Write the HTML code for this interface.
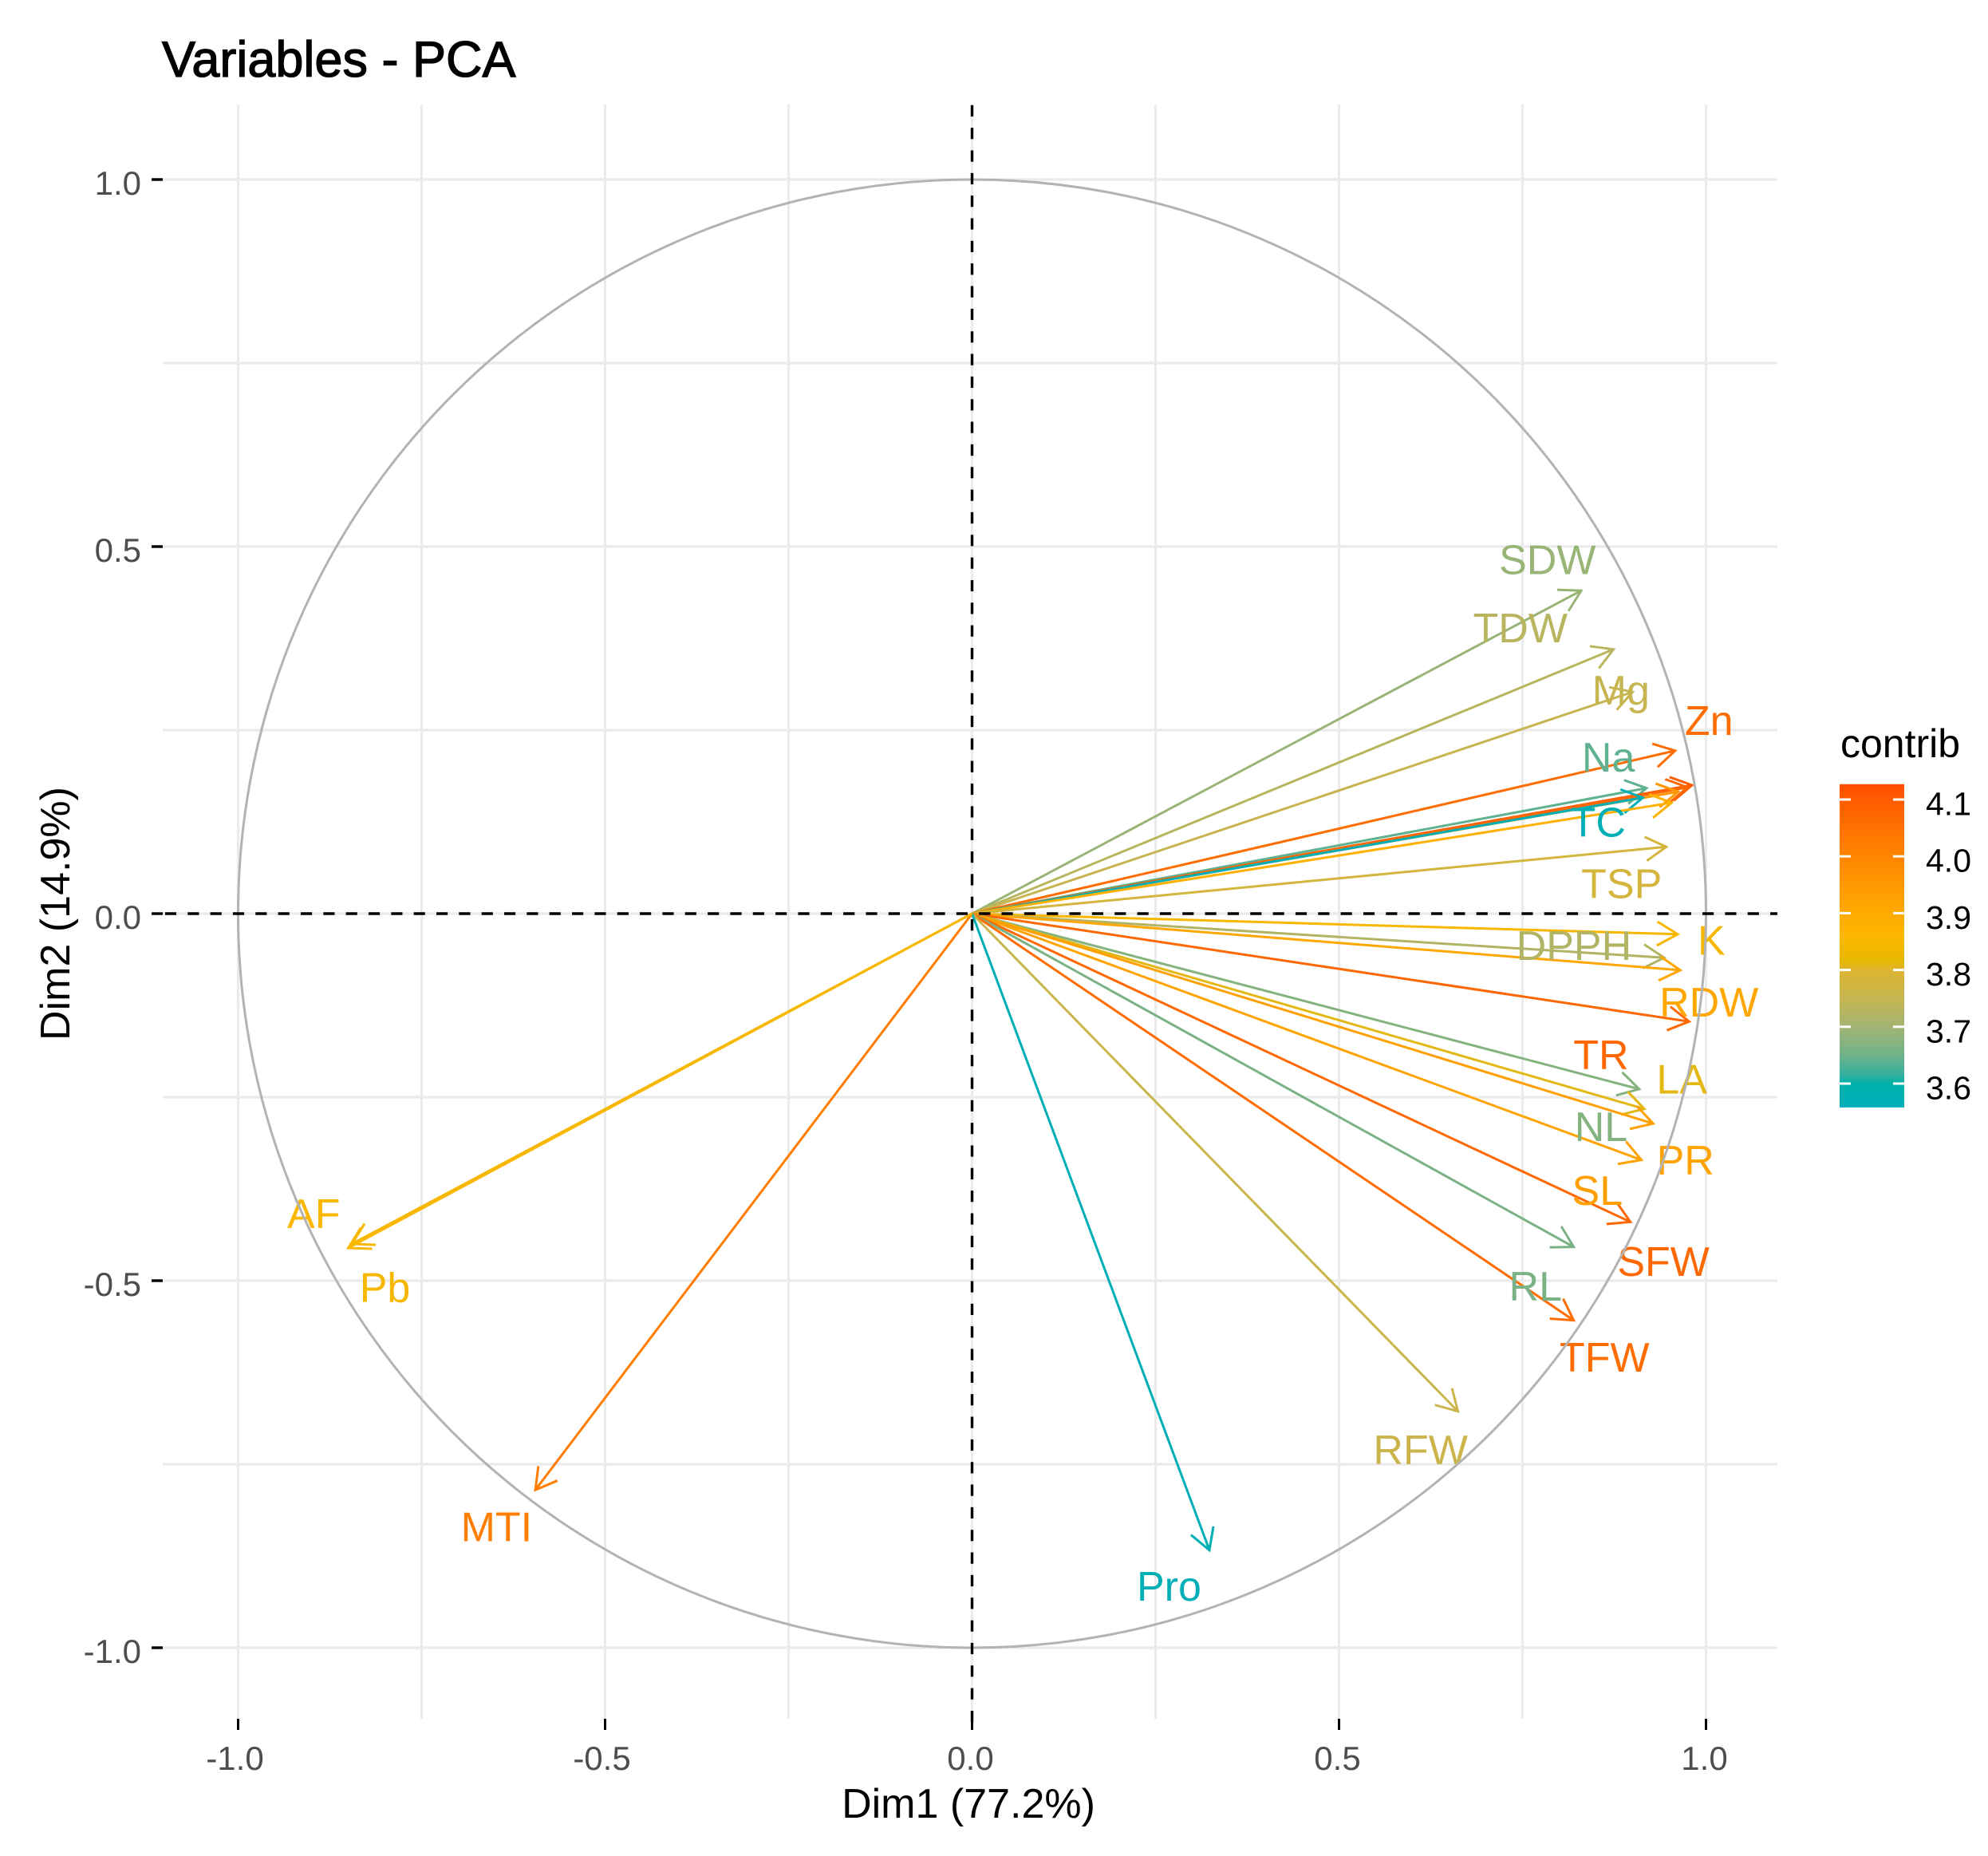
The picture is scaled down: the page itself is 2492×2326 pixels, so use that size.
<!DOCTYPE html>
<html lang="en">
<head>
<meta charset="utf-8">
<title>Variables - PCA</title>
<style>
html,body{margin:0;padding:0;background:#fff;}
svg{display:block;font-family:"Liberation Sans",Arial,sans-serif;}
</style>
</head>
<body>
<svg id="chart" xmlns="http://www.w3.org/2000/svg" width="2492" height="2326" viewBox="0 0 2492 2326">
  <rect x="0" y="0" width="2492" height="2326" fill="#ffffff"/>
  <text x="203" y="96" font-size="63" fill="#000" stroke="#000" stroke-width="1.3">Variables - PCA</text>
  <text x="1214" y="2278" font-size="52" fill="#000" text-anchor="middle">Dim1 (77.2%)</text>
  <text x="0" y="0" transform="translate(87 1145) rotate(-90)" font-size="52" fill="#000" text-anchor="middle">Dim2 (14.9%)</text>
  <text x="2307" y="949" font-size="50" fill="#000">contrib</text>
  <defs>
    <linearGradient id="contribGradient" x1="0" y1="1" x2="0" y2="0"></linearGradient>
  </defs>
  <g id="grid"></g>
  <g id="ticks"></g>
  <g id="arrows"></g>
  <g id="labels"></g>
  <circle id="circle" fill="none" stroke="#b3b3b3" stroke-width="3"></circle>
  <g id="zero"></g>
  <g id="legend"></g>
</svg>
<script>
// Chart data
const varNames = ['SDW','TDW','Mg','Zn','Na','','','','TC','','TSP','K','DPPH','RDW','TR','NL','LA','SL','PR','SFW','RL','TFW','RFW','Pro','MTI','AF','Pb'];
const dim1 = [0.830,0.874,0.900,0.958,0.919,0.981,0.975,0.962,0.914,0.953,0.946,0.9615,0.943,0.965,0.977,0.909,0.916,0.928,0.912,0.897,0.8197,0.8197,0.662,0.3234,-0.595,-0.850,-0.845];
const dim2 = [0.440,0.360,0.302,0.222,0.171,0.175,0.172,0.166,0.158,0.151,0.091,-0.028,-0.060,-0.077,-0.147,-0.239,-0.266,-0.286,-0.3355,-0.420,-0.454,-0.554,-0.678,-0.867,-0.785,-0.4555,-0.450];
const contrib = [3.69,3.73,3.75,4.06,3.64,4.10,4.07,3.95,3.57,3.88,3.78,3.85,3.72,3.91,4.07,3.67,3.81,3.93,3.92,4.07,3.66,4.06,3.76,3.57,4.02,3.86,3.85];
const labelOffsetDim1 = [-0.046,-0.127,-0.016,0.046,-0.052,0,0,0,-0.061,0,-0.061,0.046,-0.123,0.039,-0.120,-0.052,0.051,-0.076,0.060,0.045,-0.052,0.042,-0.051,-0.055,-0.053,-0.047,0.045];
const labelOffsetDim2 = [0.0225,0.0096,-0.017,0.0215,0.0225,0,0,0,-0.053,0,-0.070,-0.028,-0.003,-0.063,-0.065,-0.071,0.021,-0.111,-0.020,-0.0735,-0.073,-0.070,-0.072,-0.069,-0.070,0.027,-0.079];
const majorTicks = [-1,-0.5,0,0.5,1];
const minorTicks = [-0.75,-0.25,0.25,0.75];
const tickLabels = ['-1.0','-0.5','0.0','0.5','1.0'];
const legendTicks = [3.6,3.7,3.8,3.9,4.0,4.1];
const legendTickLabels = ['3.6','3.7','3.8','3.9','4.0','4.1'];
const legendStopValues = [3.558,3.60,3.615,3.65,3.70,3.75,3.80,3.817,3.86,3.90,4.00,4.10,4.127];
const legendStopColors = ['#00AFBB','#00B0A8','#33B09F','#70B28A','#A3B472','#C6B550','#DDB530','#E7B800','#FCB700','#FFAA00','#FF8500','#FF5C00','#FF4C00'];

const NS = 'http://www.w3.org/2000/svg';
const panel = {left:204, right:2228, top:131, bottom:2154};
const cx = 1218.5, cy = 1145, unit = 920;
const xScale = function(v){ return cx + v*unit; };
const yScale = function(v){ return cy - v*unit; };
const legendY = function(v){ return 1358 - (v-3.6)*712; };

function hexToRgb(h){ return [parseInt(h.substr(1,2),16),parseInt(h.substr(3,2),16),parseInt(h.substr(5,2),16)]; }
function colorScale(v){
  const vals = legendStopValues, cols = legendStopColors;
  if(v<=vals[0]) return cols[0];
  for(let i=1;i<vals.length;i++){
    if(v<=vals[i]){
      const t=(v-vals[i-1])/(vals[i]-vals[i-1]);
      const a=hexToRgb(cols[i-1]), b=hexToRgb(cols[i]);
      return 'rgb('+a.map(function(c,k){return Math.round(c+(b[k]-c)*t);}).join(',')+')';
    }
  }
  return cols[cols.length-1];
}
function make(tag,parent,attrs){
  const el=document.createElementNS(NS,tag);
  for(const k in attrs) el.setAttribute(k,attrs[k]);
  parent.appendChild(el);
  return el;
}
const grid=document.getElementById('grid'), ticks=document.getElementById('ticks');
const GRID='#ebebeb';

minorTicks.concat(majorTicks).forEach(function(t){
  const v=make('line',grid,{x1:xScale(t),x2:xScale(t),y1:panel.top,y2:panel.bottom,stroke:GRID,'stroke-width':3.2});
  
  
  const h=make('line',grid,{x1:panel.left,x2:panel.right,y1:yScale(t),y2:yScale(t),stroke:GRID,'stroke-width':3.2});
  
  
});

majorTicks.forEach(function(t,i){
  const tx=make('line',ticks,{x1:xScale(t),x2:xScale(t),y1:panel.bottom,y2:panel.bottom+14,stroke:'#000','stroke-width':3});
  
  
  const ty=make('line',ticks,{x1:190,x2:204,y1:yScale(t),y2:yScale(t),stroke:'#000','stroke-width':3.4});
  
  
  const lx=make('text',ticks,{x:xScale(t)-(t<0?4:2),y:2218,'font-size':42,fill:'#4d4d4d','text-anchor':'middle'});
  lx.textContent=tickLabels[i];
  
  
  const ly=make('text',ticks,{x:177,y:yScale(t)+19,'font-size':42,fill:'#4d4d4d','text-anchor':'end'});
  ly.textContent=tickLabels[i];
  
  
});

const arrowsG=document.getElementById('arrows'), labelsG=document.getElementById('labels');
const HEAD=30, ANG=Math.PI/6;
varNames.forEach(function(name,i){
  const col=colorScale(contrib[i]);
  const tipX=xScale(dim1[i]), tipY=yScale(dim2[i]);
  const back=Math.atan2(cy-tipY,cx-tipX);
  const b1x=tipX+HEAD*Math.cos(back+ANG), b1y=tipY+HEAD*Math.sin(back+ANG);
  const b2x=tipX+HEAD*Math.cos(back-ANG), b2y=tipY+HEAD*Math.sin(back-ANG);
  const p=make('path',arrowsG,{d:'M'+cx+' '+cy+'L'+tipX+' '+tipY+'M'+b1x+' '+b1y+'L'+tipX+' '+tipY+'L'+b2x+' '+b2y,fill:'none',stroke:col,'stroke-width':3});
  
  
  if(name){
    const t=make('text',labelsG,{x:xScale(dim1[i]+labelOffsetDim1[i]),y:yScale(dim2[i]+labelOffsetDim2[i]),'font-size':52,fill:col,'text-anchor':'middle'});
    t.textContent=name;
    
    
  }
});

const circle=document.getElementById('circle');
circle.setAttribute('cx',xScale(0));
circle.setAttribute('cy',yScale(0));
circle.setAttribute('r',unit);

const zero=document.getElementById('zero');
const hz=make('line',zero,{x1:panel.left,x2:panel.right,y1:yScale(0),y2:yScale(0),stroke:'#000','stroke-width':3.4,'stroke-dasharray':'14.17 14.17','stroke-dashoffset':-2.9});


const vz=make('line',zero,{x1:xScale(0),x2:xScale(0),y1:panel.top,y2:panel.bottom+14,stroke:'#000','stroke-width':3.4,'stroke-dasharray':'14.17 14.17','stroke-dashoffset':-0.8});



// Legend
const grad=document.getElementById('contribGradient');
const legMin=legendStopValues[0], legMax=legendStopValues[legendStopValues.length-1];
legendStopValues.forEach(function(v,i){
  make('stop',grad,{offset:(v-legMin)/(legMax-legMin),'stop-color':legendStopColors[i]});
});
const legend=document.getElementById('legend');
const bar=make('rect',legend,{x:2306,y:legendY(legMax),width:81,height:legendY(legMin)-legendY(legMax),fill:'url(#contribGradient)'});


legendTicks.forEach(function(v,i){
  const y=legendY(v);
  const a=make('line',legend,{x1:2306,x2:2320,y1:y,y2:y,stroke:'#fff','stroke-width':3});
  
  
  const b=make('line',legend,{x1:2373,x2:2387,y1:y,y2:y,stroke:'#fff','stroke-width':3});
  
  
  const t=make('text',legend,{x:2414,y:y+19.5,'font-size':41,fill:'#000'});
  t.textContent=legendTickLabels[i];
  
  
});
</script>
</body>
</html>
